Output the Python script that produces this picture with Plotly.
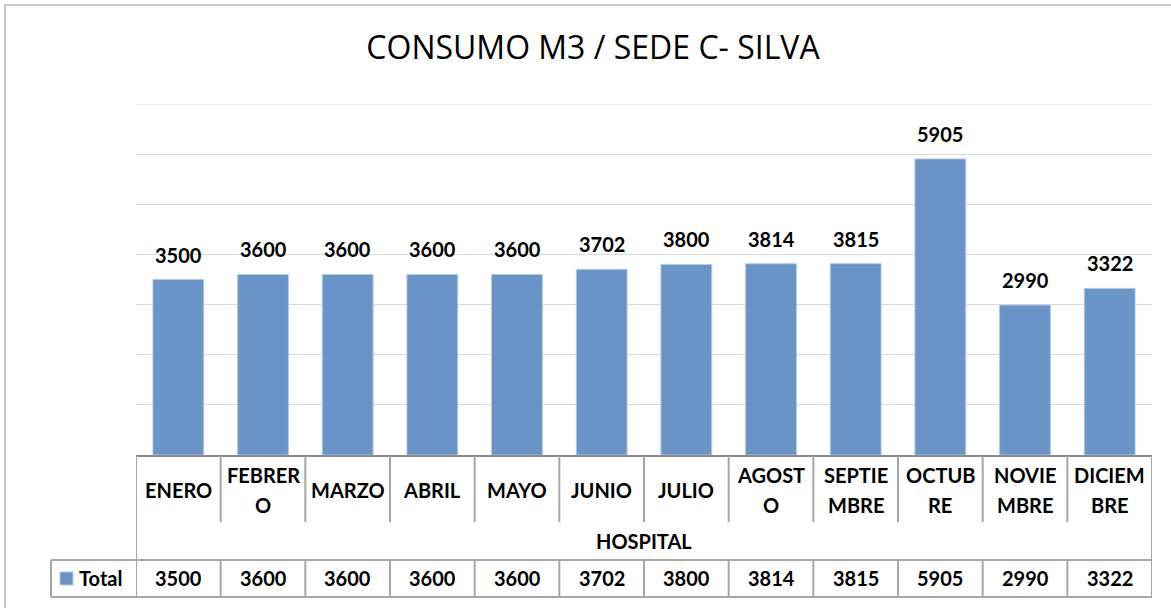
import plotly.graph_objects as go

# ---------------- data ----------------
months = ["ENERO", "FEBRERO", "MARZO", "ABRIL", "MAYO", "JUNIO", "JULIO",
          "AGOSTO", "SEPTIEMBRE", "OCTUBRE", "NOVIEMBRE", "DICIEMBRE"]
month_label_lines = [["ENERO"], ["FEBRER", "O"], ["MARZO"], ["ABRIL"], ["MAYO"], ["JUNIO"],
                     ["JULIO"], ["AGOST", "O"], ["SEPTIE", "MBRE"], ["OCTUB", "RE"],
                     ["NOVIE", "MBRE"], ["DICIEM", "BRE"]]
group_label = "HOSPITAL"
series_name = "Total"
values = [3500, 3600, 3600, 3600, 3600, 3702, 3800, 3814, 3815, 5905, 2990, 3322]
title_text = "CONSUMO M3 / SEDE C- SILVA"

# ---------------- geometry ----------------
W, H = 1171, 608
L, R, T, B = 136, 19, 104, 153
PH = H - T - B          # plot height in px
PW = W - L - R
n = len(months)
YMAX = 7000

def py(p):              # pixel y -> paper y
    return (H - B - p) / PH

def pxp(p):             # pixel x -> paper x
    return (p - L) / PW

BAR = "#6894C8"
LINE = "#A6A6A6"
FONT = "Lato"
FS = 20

fig = go.Figure()
fig.add_trace(go.Bar(
    x=list(range(n)), y=values, name=series_name,
    marker=dict(color=BAR, line=dict(color="#B4C8E4", width=1)),
    showlegend=False, hoverinfo="y",
))

annotations = []
# data labels
for i, v in enumerate(values):
    annotations.append(dict(x=i, y=v, xref="x", yref="y", text=f"<b>{v}</b>",
                            showarrow=False, yanchor="bottom", yshift=11,
                            font=dict(size=FS, color="black", family=FONT)))
# category row
for i, lines in enumerate(month_label_lines):
    k = len(lines)
    for j, part in enumerate(lines):
        yc = 490 + (j - (k - 1) / 2) * 30
        annotations.append(dict(x=i, y=py(yc), xref="x", yref="paper", text=f"<b>{part}</b>",
                                showarrow=False, yanchor="middle",
                                font=dict(size=FS, color="black", family=FONT)))
# group row
annotations.append(dict(x=(n - 1) / 2, y=py(541), xref="x", yref="paper",
                        text=f"<b>{group_label}</b>", showarrow=False, yanchor="middle",
                        font=dict(size=FS, color="black", family=FONT)))
# total row values
for i, v in enumerate(values):
    annotations.append(dict(x=i, y=py(578), xref="x", yref="paper", text=f"<b>{v}</b>",
                            showarrow=False, yanchor="middle",
                            font=dict(size=FS, color="black", family=FONT)))
# legend text
annotations.append(dict(x=pxp(77), y=py(578), xref="paper", yref="paper",
                        text=f"<b>{series_name}</b>", showarrow=False,
                        xanchor="left", yanchor="middle",
                        font=dict(size=FS, color="black", family=FONT)))

shapes = []
# outer chart border
shapes.append(dict(type="rect", xref="paper", yref="paper",
                   x0=pxp(5), x1=pxp(W + 20), y0=py(H + 20), y1=py(5),
                   line=dict(color="#C8C8C8", width=2), layer="below"))
# top gridline (at range edge)
shapes.append(dict(type="line", xref="paper", yref="y", x0=0, x1=1, y0=YMAX, y1=YMAX,
                   line=dict(color="#D9D9D9", width=1), layer="below"))
# axis line
shapes.append(dict(type="line", xref="x", yref="paper", x0=-0.5, x1=n - 0.5,
                   y0=py(456), y1=py(456), line=dict(color="#8C8C8C", width=2)))
# vertical dividers in category row
for k in range(n + 1):
    shapes.append(dict(type="line", xref="x", yref="paper", x0=k - 0.5, x1=k - 0.5,
                       y0=py(456), y1=py(522), line=dict(color=LINE, width=2)))
# left and right borders of group row
for xx in (-0.5, n - 0.5):
    shapes.append(dict(type="line", xref="x", yref="paper", x0=xx, x1=xx,
                       y0=py(522), y1=py(560), line=dict(color=LINE, width=2)))
# total row lines (extend left into legend cell -> paper refs)
shapes.append(dict(type="line", xref="paper", yref="paper", x0=pxp(51), x1=1,
                   y0=py(560), y1=py(560), line=dict(color=LINE, width=2)))
shapes.append(dict(type="line", xref="paper", yref="paper", x0=pxp(51), x1=1,
                   y0=py(597), y1=py(597), line=dict(color=LINE, width=2)))
shapes.append(dict(type="line", xref="paper", yref="paper", x0=pxp(51), x1=pxp(51),
                   y0=py(560), y1=py(597), line=dict(color=LINE, width=2)))
for k in range(n + 1):
    shapes.append(dict(type="line", xref="x", yref="paper", x0=k - 0.5, x1=k - 0.5,
                       y0=py(560), y1=py(597), line=dict(color=LINE, width=2)))
# legend key
shapes.append(dict(type="rect", xref="paper", yref="paper", x0=pxp(60), x1=pxp(73),
                   y0=py(585), y1=py(572), fillcolor=BAR, line=dict(color="#B4C8E4", width=1)))

fig.update_layout(
    width=W, height=H,
    margin=dict(l=L, r=R, t=T, b=B, pad=0),
    paper_bgcolor="white", plot_bgcolor="white",
    title=dict(text=title_text, x=593 / W, xanchor="center", y=1 - 48 / H, yanchor="middle",
               font=dict(size=32, color="black", family="Open Sans")),
    bargap=0.4,
    xaxis=dict(range=[-0.5, n - 0.5], showticklabels=False, showgrid=False,
               zeroline=False, showline=False, ticks="", fixedrange=True),
    yaxis=dict(range=[0, YMAX], dtick=1000, showticklabels=False, showgrid=True,
               gridcolor="#D9D9D9", gridwidth=1, zeroline=False, showline=False,
               ticks="", fixedrange=True),
    annotations=annotations, shapes=shapes,
    showlegend=False,
)

fig.write_html("out.html", config={"displayModeBar": False},
               post_script="document.body.style.margin='0px';document.body.style.overflow='hidden';")
